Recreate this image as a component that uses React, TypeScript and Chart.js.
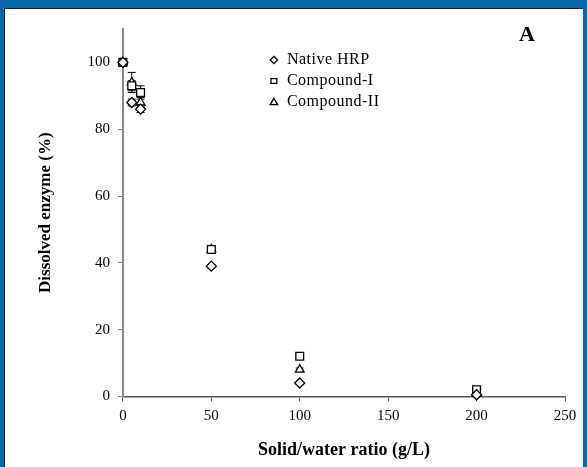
import React, { useEffect, useRef } from "react";
import { Chart, registerables } from "chart.js";

Chart.register(...registerables);

const ratios = [0, 5, 10, 50, 100, 200];
const nativeHRP = [100, 88, 86, 39, 4, 0.5];
const nativeErr = [0, 1, 1, 0.5, 0.3, 0.3];
const compoundI = [100, 93, 91, 44, 12, 2];
const compoundIErr = [0, 1.5, 2, 0.5, 0.3, 0.3];
const compoundII = [100, 94, 88, 44, 8, 1];
const compoundIIErr = [0, 3, 1.5, 0.5, 0.5, 0.3];
const yTicks = [0, 20, 40, 60, 80, 100];
const seriesLabels = ["Native HRP", "Compound-I", "Compound-II"];
const panelLabel = "A";

const SERIF = "'Liberation Serif', 'Times New Roman', serif";

const framePlugin = {
  id: "frame",
  beforeDraw(chart: any) {
    const { ctx, width, height } = chart;
    ctx.save();
    ctx.fillStyle = "#0869a9";
    ctx.fillRect(0, 0, width, height);
    ctx.fillStyle = "#ffffff";
    ctx.fillRect(4, 8, width - 8, height - 8);
    ctx.fillStyle = "#1a1a1a";
    ctx.fillRect(4, 8, width - 8, 1);
    ctx.fillRect(4, 8, 1, height - 8);
    ctx.restore();
  },
};

const errorBarPlugin = {
  id: "errorBars",
  beforeDatasetsDraw(chart: any) {
    const { ctx } = chart;
    const xs = chart.scales.x;
    const ys = chart.scales.y;
    ctx.save();
    ctx.strokeStyle = "#000";
    ctx.lineWidth = 1;
    chart.data.datasets.forEach((ds: any) => {
      (ds.data as any[]).forEach((p: any, i: number) => {
        const e = ds.errors ? ds.errors[i] : 0;
        if (!e) return;
        const px = xs.getPixelForValue(p.x);
        const top = ys.getPixelForValue(p.y + e);
        const bot = ys.getPixelForValue(p.y - e);
        ctx.beginPath();
        ctx.moveTo(px, top);
        ctx.lineTo(px, bot);
        ctx.moveTo(px - 4, top);
        ctx.lineTo(px + 4, top);
        ctx.moveTo(px - 4, bot);
        ctx.lineTo(px + 4, bot);
        ctx.stroke();
      });
    });
    ctx.restore();
  },
};

function drawMarker(ctx: CanvasRenderingContext2D, style: string, x: number, y: number, r: number) {
  ctx.beginPath();
  if (style === "rectRot") {
    ctx.moveTo(x, y - r);
    ctx.lineTo(x + r, y);
    ctx.lineTo(x, y + r);
    ctx.lineTo(x - r, y);
    ctx.closePath();
  } else if (style === "rect") {
    ctx.rect(x - r * 0.8, y - r * 0.65, r * 1.6, r * 1.3);
  } else {
    ctx.moveTo(x, y - r);
    ctx.lineTo(x + r, y + r * 0.7);
    ctx.lineTo(x - r, y + r * 0.7);
    ctx.closePath();
  }
  ctx.fillStyle = "#fff";
  ctx.fill();
  ctx.strokeStyle = "#000";
  ctx.lineWidth = 1.3;
  ctx.stroke();
}

const legendPlugin = {
  id: "customLegend",
  afterDraw(chart: any) {
    const { ctx, chartArea } = chart;
    ctx.save();
    ctx.font = `16px ${SERIF}`;
    try { (ctx as any).letterSpacing = "0.5px"; } catch (e) {}
    ctx.fillStyle = "#000";
    ctx.textBaseline = "middle";
    ctx.textAlign = "left";
    const x0 = chartArea.left + 151;
    const y0 = chartArea.top + 31;
    chart.data.datasets.forEach((ds: any, i: number) => {
      const y = y0 + i * 21;
      drawMarker(ctx, ds.pointStyle, x0, y, 3.7);
      ctx.fillStyle = "#000";
      ctx.fillText(ds.label, x0 + 13, y);
    });
    try { (ctx as any).letterSpacing = "0px"; } catch (e) {}
    ctx.font = `bold 22px ${SERIF}`;
    ctx.textAlign = "center";
    ctx.fillText(panelLabel, chartArea.right - 38, chartArea.top + 6);
    ctx.restore();
  },
};

export default function App() {
  const ref = useRef<HTMLCanvasElement | null>(null);
  useEffect(() => {
    document.body.style.margin = "0";
    const mk = (vals: number[]) => ratios.map((x, i) => ({ x, y: vals[i] }));
    const common = {
      pointBackgroundColor: "#fff",
      pointBorderColor: "#000",
      pointBorderWidth: 1.3,
      showLine: false,
      clip: false,
    };
    const chart = new Chart(ref.current as HTMLCanvasElement, {
      type: "scatter",
      data: {
        datasets: [
          { ...common, label: seriesLabels[0], data: mk(nativeHRP), errors: nativeErr, pointStyle: "rectRot", pointRadius: 5 } as any,
          { ...common, label: seriesLabels[1], data: mk(compoundI), errors: compoundIErr, pointStyle: "rect", pointRadius: 5.5 } as any,
          { ...common, label: seriesLabels[2], data: mk(compoundII), errors: compoundIIErr, pointStyle: "triangle", pointRadius: 5 } as any,
        ],
      },
      options: {
        animation: false,
        responsive: false,
        layout: { padding: { left: 35, right: 22, top: 29, bottom: 6 } },
        plugins: { legend: { display: false }, tooltip: { enabled: false } },
        scales: {
          x: {
            type: "linear",
            min: 0,
            max: 250,
            ticks: { stepSize: 50, color: "#000", font: { family: SERIF, size: 15 }, padding: 6 },
            grid: { drawOnChartArea: false, drawTicks: true, tickLength: 5, color: "#555" },
            border: { display: true, color: "#555", width: 1.5 },
            title: {
              display: true,
              text: "Solid/water ratio (g/L)",
              color: "#000",
              font: { family: SERIF, size: 18, weight: "bold" },
              padding: { top: 8, bottom: 0 },
            },
          },
          y: {
            type: "linear",
            min: 0,
            max: 110,
            afterBuildTicks: (scale: any) => {
              scale.ticks = yTicks.map((v) => ({ value: v }));
            },
            ticks: { color: "#000", font: { family: SERIF, size: 15 }, padding: 8 },
            grid: { drawOnChartArea: false, drawTicks: true, tickLength: 5, color: "#888" },
            border: { display: true, color: "#888", width: 2 },
            title: {
              display: true,
              text: "Dissolved enzyme (%)",
              color: "#000",
              font: { family: SERIF, size: 17, weight: "bold" },
              padding: { top: 0, bottom: 24 },
            },
          },
        },
      },
      plugins: [framePlugin, errorBarPlugin, legendPlugin],
    } as any);
    return () => chart.destroy();
  }, []);
  return (
    <div style={{ position: "fixed", left: 0, top: 0, width: 587, height: 467 }}>
      <canvas ref={ref} width={587} height={467} style={{ display: "block" }} />
    </div>
  );
}
